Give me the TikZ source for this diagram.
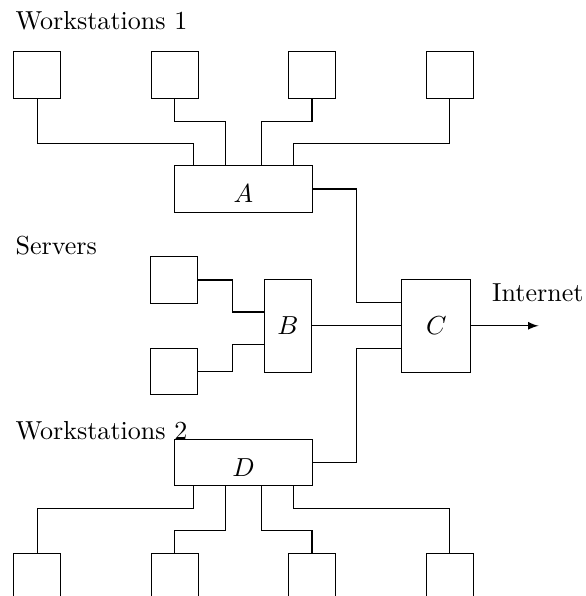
\documentclass[tikz,border=0pt]{standalone}
\usetikzlibrary{calc}
\usetikzlibrary{math}
\usetikzlibrary{arrows}
\tikzset{pc/.style={draw, minimum width=18pt, minimum height=18pt, inner sep=0pt},
	hub/.style={draw, minimum width=53pt, minimum height=17.7pt, inner sep=0pt, text height=10.6pt},
	lbl/.style={anchor=base west, inner sep=0pt}}

\begin{document}
\begin{tikzpicture}[x=0.384pt,y=0.384pt]
	\tikzmath{\xa=37.3; \xb=174.7; \xc=312; \xd=449.6; \yt=521; \yb=18.8;
	\hx=243.4; \ya=407; \yd=133.3;
	\sx=174; \sya=316; \syb=224.5;
	\bx=288; \cx=436.3; \by=270.2;
	\jo=45; \ji=22.6; \ho=50; \hi=18;
	}
	\useasboundingbox (0,0) rectangle (586,596);
	% workstations 1
	\node[pc] (wa1) at (\xa,\yt) {};
	\node[pc] (wa2) at (\xb,\yt) {};
	\node[pc] (wa3) at (\xc,\yt) {};
	\node[pc] (wa4) at (\xd,\yt) {};
	% workstations 2
	\node[pc] (wb1) at (\xa,\yb) {};
	\node[pc] (wb2) at (\xb,\yb) {};
	\node[pc] (wb3) at (\xc,\yb) {};
	\node[pc] (wb4) at (\xd,\yb) {};
	% servers
	\node[pc] (s1) at (\sx,\sya) {};
	\node[pc] (s2) at (\sx,\syb) {};
	\node[hub] (A) at (\hx,\ya) {$A$};
	\node[hub] (D) at (\hx,\yd) {$D$};
	\node[draw, minimum width=18.2pt, minimum height=35.7pt] (B) at (\bx,\by) {$B$};
	\node[draw, minimum width=26.6pt, minimum height=35.7pt] (C) at (\cx,\by) {$C$};
	\node[lbl] (ws1) at (15,566) {Workstations 1};
	\node[lbl] (srv) at (15,341) {Servers};
	\node[lbl] (ws2) at (15,156) {Workstations 2};
	\node[lbl] (net) at (491.7,294.3) {Internet};
	\coordinate (out) at (538.5,\by);
	\draw (wa1.south) -- ++(0,-\jo) -| ($(A.north)+(-\ho,0)$);
	\draw (wa2.south) -- ++(0,-\ji) -| ($(A.north)+(-\hi,0)$);
	\draw (wa3.south) -- ++(0,-\ji) -| ($(A.north)+(\hi,0)$);
	\draw (wa4.south) -- ++(0,-\jo) -| ($(A.north)+(\ho,0)$);
	\draw (wb1.north) -- ++(0,\jo) -| ($(D.south)+(-\ho,0)$);
	\draw (wb2.north) -- ++(0,\ji) -| ($(D.south)+(-\hi,0)$);
	\draw (wb3.north) -- ++(0,\ji) -| ($(D.south)+(\hi,0)$);
	\draw (wb4.north) -- ++(0,\jo) -| ($(D.south)+(\ho,0)$);
	\draw (s1.east) -| ($(B.west)+(-31,13.8)$) -- ($(B.west)+(0,13.8)$);
	\draw (s2.east) -| ($(B.west)+(-31,-18.5)$) -- ($(B.west)+(0,-18.5)$);
	\draw (B.east) -- (C.west);
	\draw (A.east) -| ($(C.west)+(-44.3,23)$) -- ($(C.west)+(0,23)$);
	\draw (D.east) -| ($(C.west)+(-44.3,-23)$) -- ($(C.west)+(0,-23)$);
	\draw[-latex] (C.east) -- (out);
\end{tikzpicture}
\end{document}
